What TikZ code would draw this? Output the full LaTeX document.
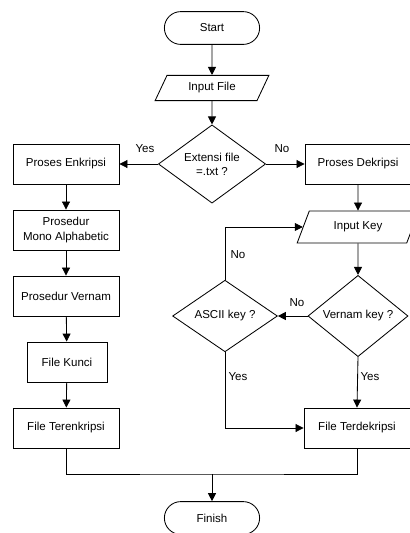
\documentclass[tikz,border=0pt]{standalone}
\usepackage{fontspec}
\setmainfont{Liberation Sans}
\usepackage{tikz}
\usetikzlibrary{positioning,calc}
\usetikzlibrary{shapes.geometric, arrows.meta}
\tikzstyle{startstop} = [rectangle, rounded corners=0.41cm, minimum width=2.38cm, minimum height=0.82cm, draw=black, line width=0.6pt, font=\fontsize{8.2}{10}\selectfont]
\tikzstyle{io} = [trapezium, trapezium left angle=64, trapezium right angle=116, trapezium stretches=true, inner sep=1pt, text centered, draw=black, line width=0.6pt, font=\fontsize{8.2}{10}\selectfont]
\tikzstyle{process} = [rectangle, minimum width=2.65cm, minimum height=1cm, text centered, align=center, draw=black, line width=0.6pt, font=\fontsize{8.2}{10}\selectfont]
\tikzstyle{decision} = [diamond, inner sep=0pt, text centered, align=center, draw=black, line width=0.6pt, font=\fontsize{8.2}{10}\selectfont]
\tikzstyle{lbl} = [inner sep=1pt, font=\fontsize{8.2}{10}\selectfont]
\tikzstyle{arrow} = [line width=0.6pt,-{Triangle[length=2mm,width=2mm]}]

\begin{document}
\begin{tikzpicture}[x=0.025cm,y=-0.025cm]
    \useasboundingbox (0,0) rectangle (409,533);
    % Simbol
    \node[startstop] (start) at (212,28) {Start};
    \node[io, minimum width=2.85cm, minimum height=0.63cm] (infile) at (212,88) {Input File};
    \node[decision, minimum width=2.68cm, minimum height=1.95cm] (ext) at (212,164) {Extensi file\\=.txt ?};
    \node[process] (enk) at (66,164) {Proses Enkripsi};
    \node[process] (dek) at (358,164) {Proses Dekripsi};
    \node[process] (mono) at (66,230) {Prosedur\\Mono Alphabetic};
    \node[process] (vernam) at (66,296) {Prosedur Vernam};
    \node[process, minimum width=2cm] (kunci) at (67,362) {File Kunci};
    \node[process] (terenk) at (66,428) {File Terenkripsi};
    \node[io, minimum width=3.05cm, minimum height=0.8cm] (inkey) at (358,227) {Input Key};
    \node[decision, minimum width=2.5cm, minimum height=1.48cm] (vkey) at (358,316) {Vernam key ?};
    \node[decision, minimum width=2.62cm, minimum height=1.48cm] (akey) at (225,316) {ASCII key ?};
    \node[process] (terdek) at (357,428) {File Terdekripsi};
    \node[startstop] (finish) at (212,518) {Finish};
    \coordinate (gabung) at (212,474);

    % Panah
    \draw[arrow] (start) -- (infile);
    \draw[arrow] (infile) -- (ext);
    \draw[arrow] (ext.west) -- (enk.east);
    \draw[arrow] (ext.east) -- (dek.west);
    \draw[arrow] (enk) -- (mono);
    \draw[arrow] (mono) -- (vernam);
    \draw[arrow] (vernam) -- (kunci);
    \draw[arrow] (kunci) -- (terenk);
    \draw[arrow] (dek) -- (inkey);
    \draw[arrow] (inkey) -- (vkey);
    \draw[arrow] (vkey.west) -- (akey.east);
    \draw[arrow] (akey.north) |- (inkey.west);
    \draw[arrow] (akey.south) |- (terdek.west);
    \draw[arrow] (vkey.south) -- (terdek.north);
    \draw[line width=0.6pt] (terenk.south) |- (gabung) -| (terdek.south);
    \draw[arrow] (gabung) -- (finish);

    % Label
    \node[lbl] (yes1) at (145,149) {Yes};
    \node[lbl] (no1) at (282,149) {No};
    \node[lbl] (no2) at (238,255) {No};
    \node[lbl] (no3) at (297,303) {No};
    \node[lbl] (yes2) at (238,377) {Yes};
    \node[lbl] (yes3) at (370,377) {Yes};
\end{tikzpicture}
\end{document}
